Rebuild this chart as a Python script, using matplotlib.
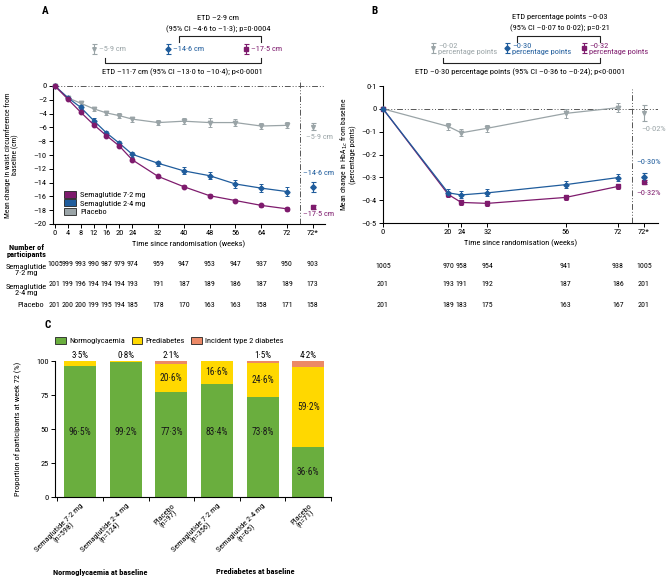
import matplotlib
matplotlib.use('Agg')
import matplotlib.pyplot as plt
import matplotlib.transforms as mtransforms
from matplotlib.patches import Patch
from matplotlib import font_manager

names = {f.name for f in font_manager.fontManager.ttflist}
if 'Roboto Condensed' in names:
    plt.rcParams['font.family'] = ['Roboto Condensed', 'DejaVu Sans']
    SCALE = 1.0
else:
    plt.rcParams['font.family'] = ['Liberation Sans', 'DejaVu Sans']
    SCALE = 0.85
plt.rcParams['font.size'] = 6
plt.rcParams['axes.linewidth'] = 0.8

W, H = 672, 581

PURPLE = '#7e1b6d'
BLUE = '#1f5c9c'
GREY = '#9aa4a7'
GREEN = '#6aae3e'
YELLOW = '#ffd800'
SALMON = '#ec8966'
ZERO_LS = (0, (6, 2, 1, 2, 1, 2))

# ---- panel A data: waist circumference ----
weeks_a = [0, 4, 8, 12, 16, 20, 24, 32, 40, 48, 56, 64, 72]
waist_sema72 = [0, -1.9, -3.8, -5.6, -7.2, -8.7, -10.7, -13.1, -14.6, -15.9, -16.6, -17.3, -17.8]
waist_sema24 = [0, -1.7, -3.1, -5.0, -6.8, -8.3, -9.9, -11.2, -12.3, -13.0, -14.2, -14.8, -15.3]
waist_placebo = [0, -1.7, -2.5, -3.3, -3.9, -4.3, -4.8, -5.3, -5.1, -5.3, -5.3, -5.8, -5.7]
err_sema72 = [0, 0.15, 0.15, 0.2, 0.2, 0.2, 0.2, 0.2, 0.2, 0.2, 0.2, 0.25, 0.25]
err_sema24 = [0, 0.3, 0.3, 0.35, 0.35, 0.4, 0.4, 0.4, 0.5, 0.5, 0.6, 0.6, 0.6]
err_placebo = [0, 0.3, 0.3, 0.3, 0.3, 0.35, 0.35, 0.4, 0.45, 0.6, 0.5, 0.45, 0.45]
final_a = [-17.5, -14.6, -5.9]
final_a_err = [0.3, 0.7, 0.5]

n_a_sema72 = [1005, 999, 993, 990, 987, 979, 974, 959, 947, 953, 947, 937, 950, 903]
n_a_sema24 = [201, 199, 196, 194, 194, 194, 193, 191, 187, 189, 186, 187, 189, 173]
n_a_placebo = [201, 200, 200, 199, 195, 194, 185, 178, 170, 163, 163, 158, 171, 158]

# ---- panel B data: HbA1c ----
weeks_b = [0, 20, 24, 32, 56, 72]
hba_sema72 = [0, -0.375, -0.41, -0.414, -0.388, -0.34]
hba_sema24 = [0, -0.368, -0.377, -0.368, -0.332, -0.301]
hba_placebo = [0, -0.077, -0.105, -0.085, -0.02, 0.005]
hba_err72 = [0, 0.01, 0.01, 0.01, 0.01, 0.01]
hba_err24 = [0, 0.015, 0.015, 0.015, 0.015, 0.015]
hba_errpl = [0, 0.015, 0.015, 0.015, 0.02, 0.02]
final_b = [-0.32, -0.30, -0.02]
final_b_err = [0.01, 0.02, 0.035]

n_b_sema72 = [1005, 970, 958, 954, 941, 938, 1005]
n_b_sema24 = [201, 193, 191, 192, 187, 186, 201]
n_b_placebo = [201, 189, 183, 175, 163, 167, 201]

# ---- panel C data: glycaemic status at week 72 ----
c_labels = ['Semaglutide 7·2 mg\n(n=598)', 'Semaglutide 2·4 mg\n(n=124)', 'Placebo\n(n=97)',
            'Semaglutide 7·2 mg\n(n=356)', 'Semaglutide 2·4 mg\n(n=65)', 'Placebo\n(n=71)']
normo = [96.5, 99.2, 77.3, 83.4, 73.8, 36.6]
prediab = [3.5, 0.8, 20.6, 16.6, 24.6, 59.2]
t2d = [0, 0, 2.1, 0, 1.5, 4.2]

FS = 6 * SCALE


def box(l, t, r, b):
    return [l / W, 1 - b / H, (r - l) / W, (b - t) / H]


def fmt(v, nd):
    return f'{v:.{nd}f}'.replace('.', '·').replace('-', '–')


def style_axis(ax):
    ax.spines['top'].set_visible(False)
    ax.spines['right'].set_visible(False)
    ax.tick_params(length=3, width=0.7, pad=1.5, labelsize=FS)


def draw_series(ax, x, y, err, color, marker, ms):
    c = ax.errorbar(x, y, yerr=err, color=color, marker=marker, ms=ms, lw=0.9,
                    elinewidth=0.7, capsize=1.6, capthick=0.7, zorder=3)
    arts = [c.lines[0]] + list(c.lines[1]) + list(c.lines[2])
    for art in arts:
        art.set_clip_on(False)


fig = plt.figure(figsize=(W / 100, H / 100), dpi=100)
ov = fig.add_axes([0, 0, 1, 1])
ov.set_xlim(0, W)
ov.set_ylim(H, 0)
ov.axis('off')

# ================= panel A =================
axA = fig.add_axes(box(53, 86, 325, 224))
style_axis(axA)
axA.set_xlim(-0.6, 83.8)
axA.set_ylim(-20, 0)
axA.axhline(0, color='#555555', lw=0.7, ls=ZERO_LS, clip_on=False, zorder=1)
axA.axvline(76, ymin=0, ymax=1.04, color='#555555', lw=0.7, ls=ZERO_LS, clip_on=False)

draw_series(axA, weeks_a, waist_placebo, err_placebo, GREY, 'v', 3.2)
draw_series(axA, weeks_a, waist_sema24, err_sema24, BLUE, 'D', 2.6)
draw_series(axA, weeks_a, waist_sema72, err_sema72, PURPLE, 'o', 3.2)
for v, e, c, m in zip(final_a, final_a_err, [PURPLE, BLUE, GREY], ['s', 'D', 'v']):
    axA.errorbar([80], [v], yerr=[e], color=c, marker=m, ms=3.5 if m == 's' else 2.8,
                 elinewidth=0.8, capsize=1.8, capthick=0.8)

axA.set_xticks(weeks_a + [80])
axA.set_xticklabels([str(w) for w in weeks_a] + ['72*'])
axA.set_yticks(range(0, -21, -2))
axA.set_yticklabels([fmt(v, 0) for v in range(0, -21, -2)])
axA.set_xlabel('Time since randomisation (weeks)', fontsize=FS, labelpad=3)
axA.set_ylabel('Mean change in waist circumference from\nbaseline (cm)', fontsize=FS * 0.92, linespacing=1.0)
axA.yaxis.set_label_coords(-0.125, 0.5)

axA.text(77.8, -7.4, '–5·9 cm', color=GREY, fontsize=FS, va='center', clip_on=False)
axA.text(77.0, -12.6, '–14·6 cm', color=BLUE, fontsize=FS, va='center', clip_on=False)
axA.text(77.0, -18.6, '–17·5 cm', color=PURPLE, fontsize=FS, va='center', clip_on=False)

legend_handles = [Patch(facecolor=PURPLE, edgecolor='#222222', lw=0.6, label='Semaglutide 7·2 mg'),
                  Patch(facecolor=BLUE, edgecolor='#222222', lw=0.6, label='Semaglutide 2·4 mg'),
                  Patch(facecolor=GREY, edgecolor='#222222', lw=0.6, label='Placebo')]
axA.legend(handles=legend_handles, loc='lower left', bbox_to_anchor=(0.02, 0.02), frameon=False,
           fontsize=FS, handlelength=1.4, handleheight=0.9, labelspacing=0.15, handletextpad=0.5,
           borderpad=0.2)

# participants table A
trA = mtransforms.blended_transform_factory(axA.transData, ov.transData)
for row, y in zip([n_a_sema72, n_a_sema24, n_a_placebo], [264, 284, 305]):
    for w, n in zip(weeks_a + [80], row):
        axA.text(w, y, str(n), transform=trA, ha='center', va='center', fontsize=FS * 0.95, clip_on=False)
ov.text(27, 251, 'Number of\nparticipants', ha='center', va='center', fontsize=FS,
        fontweight='bold', linespacing=1.0)
ov.text(26, 270, 'Semaglutide\n7·2 mg', ha='center', va='center', fontsize=FS, linespacing=1.0)
ov.text(26, 290, 'Semaglutide\n2·4 mg', ha='center', va='center', fontsize=FS, linespacing=1.0)
ov.text(44, 305, 'Placebo', ha='right', va='center', fontsize=FS)

# header annotation A
ov.text(218, 18, 'ETD –2·9 cm', ha='center', va='center', fontsize=FS)
ov.text(218, 29, '(95% CI –4·6 to –1·3); p=0·0004', ha='center', va='center', fontsize=FS)
ov.plot([179, 179, 261, 261], [42, 36, 36, 42], color='#222222', lw=0.8)
ov.plot([105, 105, 261, 261], [58, 63, 63, 58], color='#222222', lw=0.8)
ov.text(182, 72, 'ETD –11·7 cm (95% CI –13·0 to –10·4); p<0·0001', ha='center', va='center', fontsize=FS)
for x, txt, c, m in [(94, '–5·9 cm', GREY, 'v'), (168, '–14·6 cm', BLUE, 'D'), (246, '–17·5 cm', PURPLE, 's')]:
    ov.errorbar([x], [49], yerr=[5], color=c, marker=m, ms=3.2 if m == 's' else 2.6,
                elinewidth=0.8, capsize=1.8, capthick=0.8)
    ov.text(x + 5, 49, txt, color=c, ha='left', va='center', fontsize=FS)

# ================= panel B =================
axB = fig.add_axes(box(383, 86, 658, 223))
style_axis(axB)
axB.set_xlim(0, 84.3)
axB.set_ylim(-0.5, 0.1)
axB.axhline(0, color='#555555', lw=0.7, ls=ZERO_LS, zorder=1)
axB.axvline(76.4, ymin=0, ymax=0.98, color='#555555', lw=0.7, ls=ZERO_LS, clip_on=False)

draw_series(axB, weeks_b, hba_placebo, hba_errpl, GREY, 'v', 3.2)
draw_series(axB, weeks_b, hba_sema72, hba_err72, PURPLE, 's', 3.4)
draw_series(axB, weeks_b, hba_sema24, hba_err24, BLUE, 'D', 2.6)
for v, e, c, m in zip(final_b, final_b_err, [PURPLE, BLUE, GREY], ['s', 'D', 'v']):
    axB.errorbar([80], [v], yerr=[e], color=c, marker=m, ms=3.5 if m == 's' else 2.8,
                 elinewidth=0.8, capsize=1.8, capthick=0.8)

axB.set_xticks(weeks_b + [80])
axB.set_xticklabels([str(w) for w in weeks_b] + ['72*'])
yt_b = [0.1, 0, -0.1, -0.2, -0.3, -0.4, -0.5]
axB.set_yticks(yt_b)
axB.set_yticklabels([fmt(v, 1) if v != 0 else '0' for v in yt_b])
axB.set_xlabel('Time since randomisation (weeks)', fontsize=FS, labelpad=3)
axB.set_ylabel('Mean change in HbA$_{1c}$ from baseline\n(percentage points)', fontsize=FS * 0.92, linespacing=1.0)
axB.yaxis.set_label_coords(-0.093, 0.5)

axB.text(79.2, -0.087, '–0·02%', color=GREY, fontsize=FS, va='center', clip_on=False)
axB.text(77.6, -0.235, '–0·30%', color=BLUE, fontsize=FS, va='center', clip_on=False)
axB.text(77.6, -0.37, '–0·32%', color=PURPLE, fontsize=FS, va='center', clip_on=False)

trB = mtransforms.blended_transform_factory(axB.transData, ov.transData)
for row, y in zip([n_b_sema72, n_b_sema24, n_b_placebo], [266, 284, 305]):
    for w, n in zip(weeks_b + [80], row):
        axB.text(w, y, str(n), transform=trB, ha='center', va='center', fontsize=FS * 0.95, clip_on=False)

ov.text(560, 17, 'ETD percentage points –0·03', ha='center', va='center', fontsize=FS)
ov.text(560, 28, '(95% CI –0·07 to 0·02); p=0·21', ha='center', va='center', fontsize=FS)
ov.plot([517, 517, 600, 600], [42, 36, 36, 42], color='#222222', lw=0.8)
ov.plot([443, 443, 600, 600], [58, 63, 63, 58], color='#222222', lw=0.8)
ov.text(520, 72, 'ETD –0·30 percentage points (95% CI –0·36 to –0·24); p<0·0001',
        ha='center', va='center', fontsize=FS)
for x, txt, c, m in [(433, '–0·02\npercentage points', GREY, 'v'),
                     (507, '–0·30\npercentage points', BLUE, 'D'),
                     (584, '–0·32\npercentage points', PURPLE, 's')]:
    ov.errorbar([x], [48], yerr=[5], color=c, marker=m, ms=3.2 if m == 's' else 2.6,
                elinewidth=0.8, capsize=1.8, capthick=0.8)
    ov.text(x + 5, 49, txt, color=c, ha='left', va='center', fontsize=FS, linespacing=1.0)

# ================= panel C =================
axC = fig.add_axes(box(55, 361, 331, 497))
style_axis(axC)
pos = list(range(len(c_labels)))
bottom2 = [a + b for a, b in zip(normo, prediab)]
axC.bar(pos, normo, width=0.7, color=GREEN, label='Normoglycaemia')
axC.bar(pos, prediab, width=0.7, bottom=normo, color=YELLOW, label='Prediabetes')
axC.bar(pos, t2d, width=0.7, bottom=bottom2, color=SALMON, label='Incident type 2 diabetes')
axC.set_xlim(-0.55, 5.5)
axC.set_ylim(0, 100)
axC.set_yticks([0, 25, 50, 75, 100])
axC.set_xticks([p - 0.5 for p in pos] + [5.5])
axC.set_xticklabels([])
axC.set_xticks(pos, minor=True)
axC.set_xticklabels(c_labels, minor=True, rotation=45, ha='right', va='top',
                    rotation_mode='anchor', multialignment='center', fontsize=FS, linespacing=1.0)
axC.tick_params(axis='x', which='minor', length=0, pad=4)
axC.set_ylabel('Proportion of participants at week 72 (%)', fontsize=FS)
axC.yaxis.set_label_coords(-0.12, 0.5)

for i in pos:
    gy = 48 if normo[i] > 60 else normo[i] / 2
    axC.text(i, gy, fmt(normo[i], 1) + '%', ha='center', va='center', fontsize=FS * 1.15, color='#1a1a1a')
    if prediab[i] > 10:
        axC.text(i, normo[i] + prediab[i] / 2, fmt(prediab[i], 1) + '%', ha='center', va='center',
                 fontsize=FS * 1.15, color='#1a1a1a')
        top = t2d[i]
    else:
        top = prediab[i]
    if top > 0:
        axC.text(i, 104, fmt(top, 1) + '%', ha='center', va='center', fontsize=FS * 1.1, clip_on=False)

axC.legend(loc='center', bbox_to_anchor=(0.415, 1.15), ncol=3, frameon=False, fontsize=FS,
           handlelength=1.3, handleheight=0.9, columnspacing=0.8, handletextpad=0.35)
for h in axC.get_legend().legend_handles:
    h.set_edgecolor('#222222')
    h.set_linewidth(0.6)

ov.text(100, 572, 'Normoglycaemia at baseline', ha='center', va='center', fontsize=FS, fontweight='bold')
ov.text(255, 572, 'Prediabetes at baseline', ha='center', va='center', fontsize=FS, fontweight='bold')

# panel letters
ov.text(45, 11, 'A', fontsize=8, fontweight='bold', ha='center', va='center')
ov.text(375, 11, 'B', fontsize=8, fontweight='bold', ha='center', va='center')
ov.text(48, 325, 'C', fontsize=8, fontweight='bold', ha='center', va='center')

fig.savefig('out.png', dpi=100)
